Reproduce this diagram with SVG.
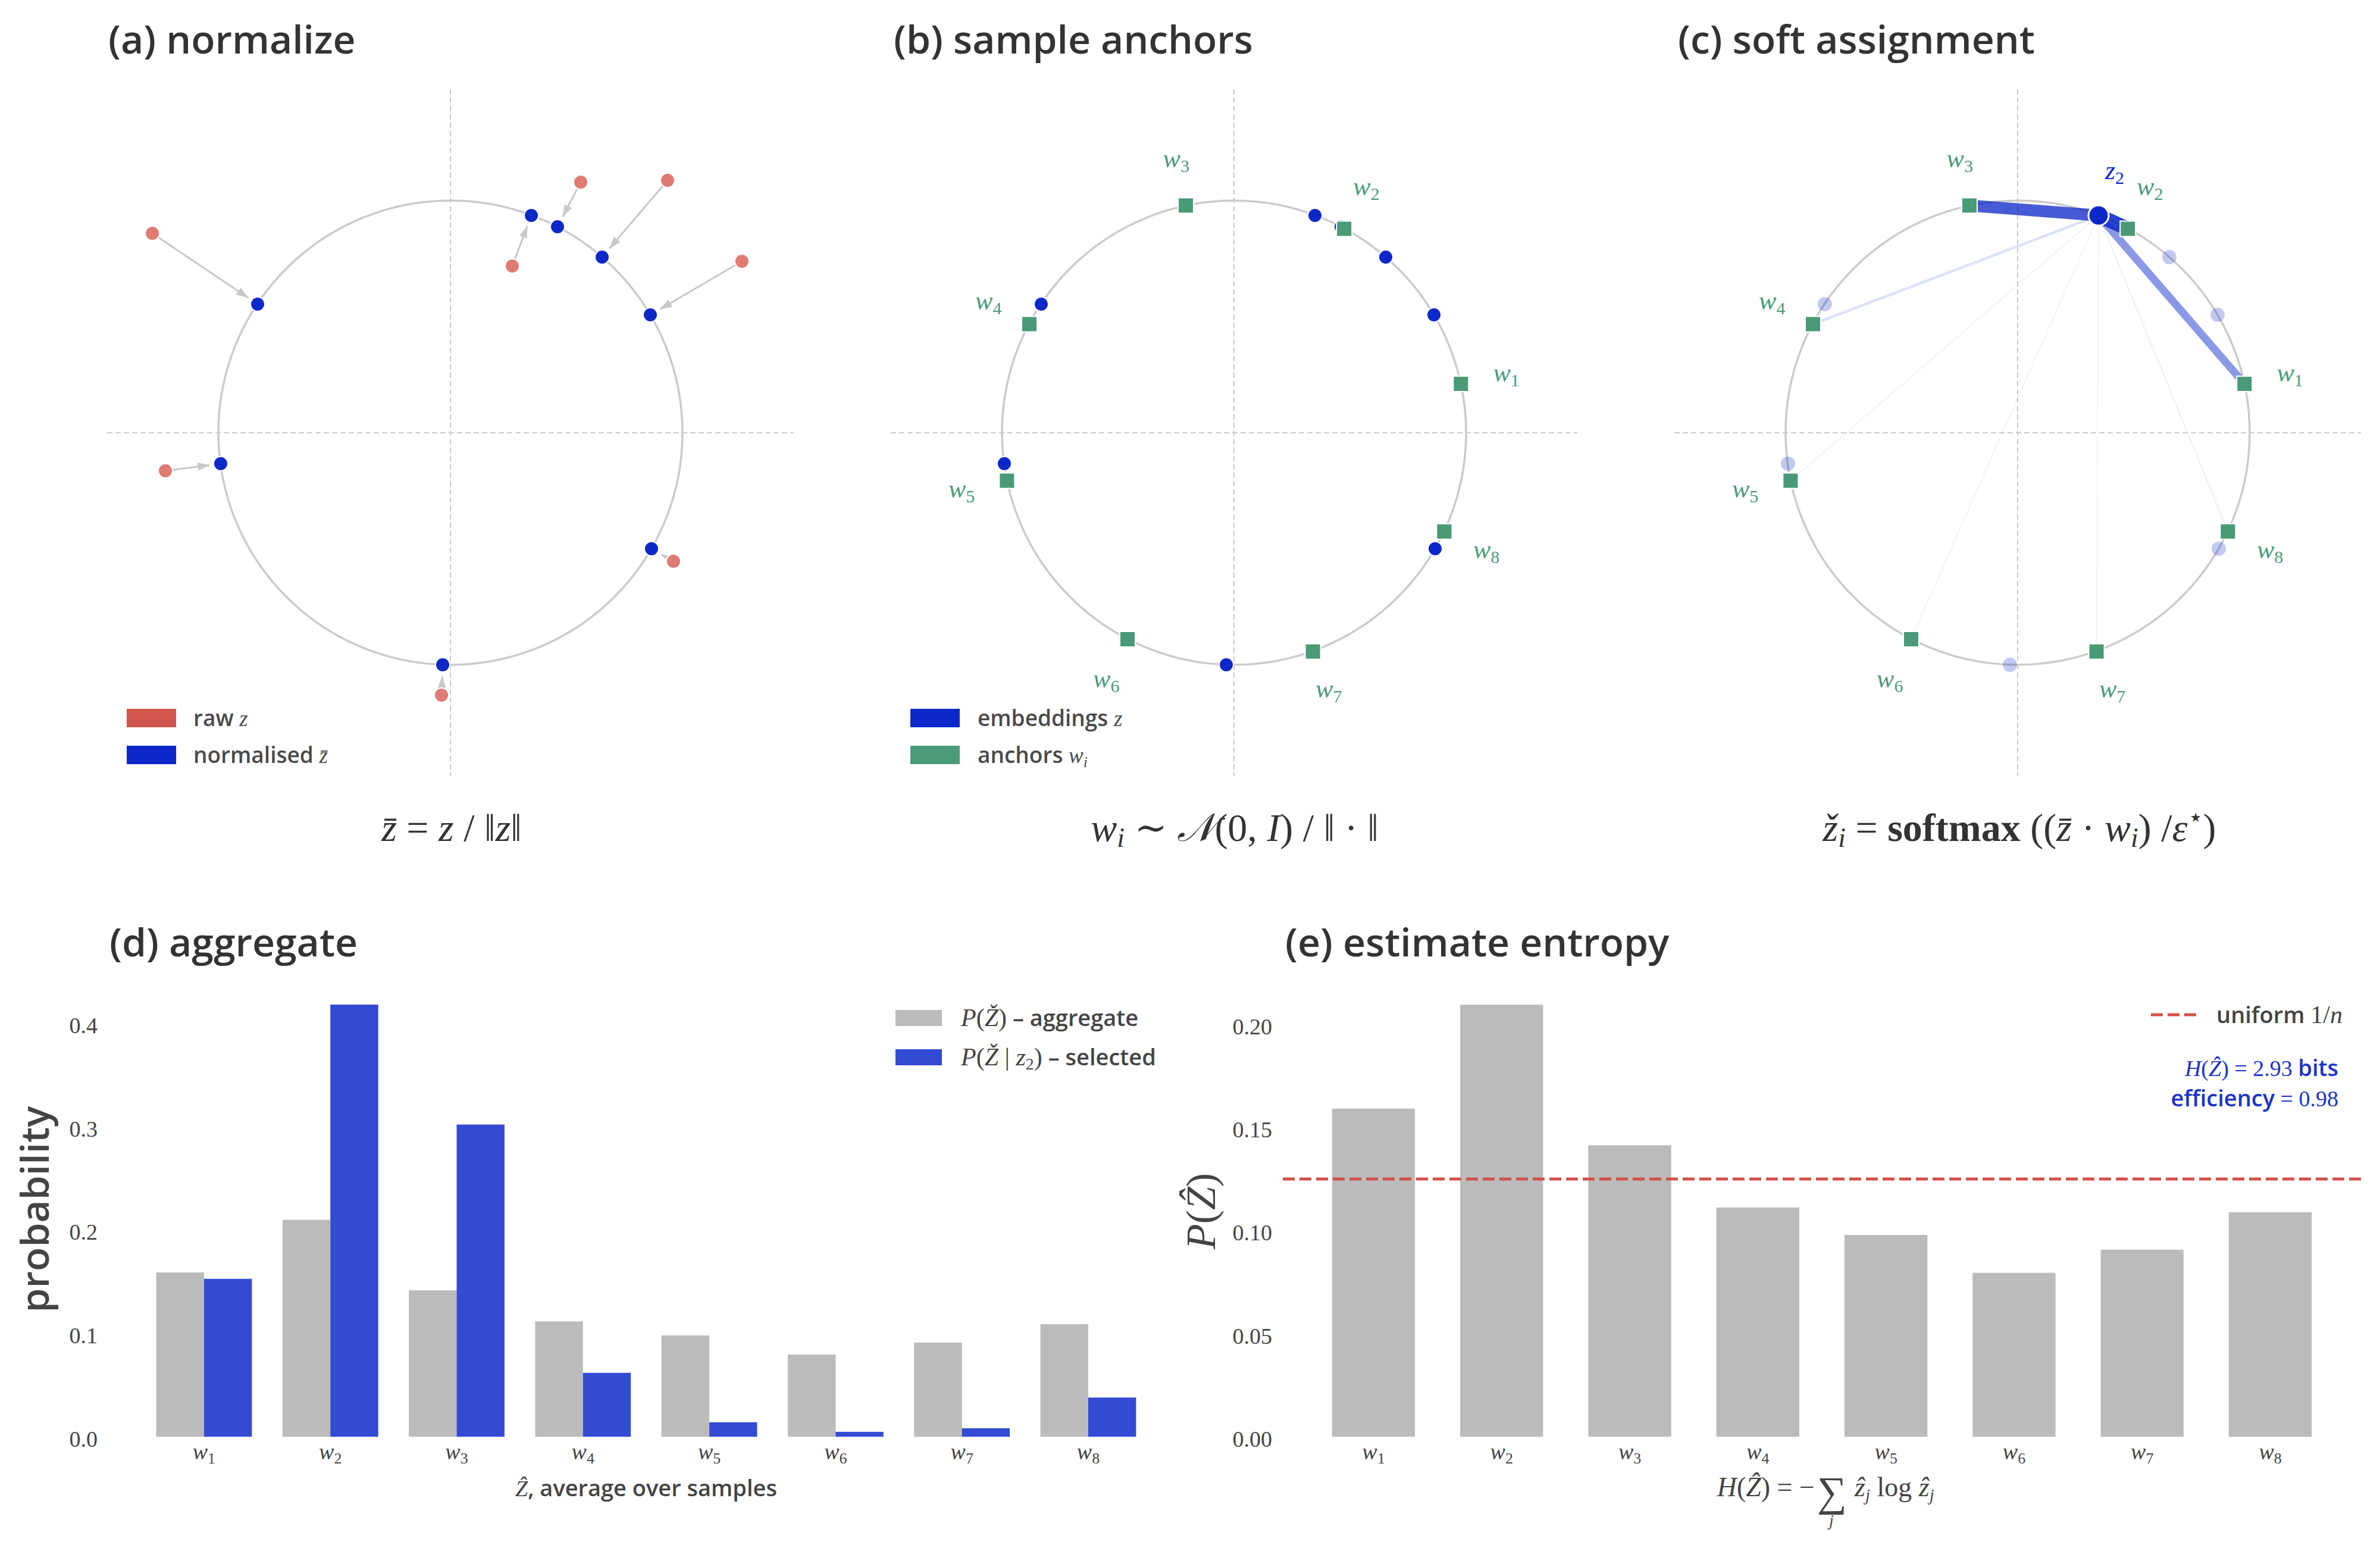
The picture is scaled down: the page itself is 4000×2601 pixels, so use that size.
<svg xmlns="http://www.w3.org/2000/svg" width="4000" height="2601" viewBox="0 0 4000 2601">
<defs>
<style>
.title{font-family:'Open Sans','Liberation Sans',sans-serif;font-weight:600;font-size:66px;fill:#333}
.leg{font-family:'Open Sans','Liberation Sans',sans-serif;font-weight:600;font-size:37px;fill:#4a4a4a}
.serif{font-family:'Liberation Serif','DejaVu Serif',serif}
.it{font-style:italic}
.tick{font-family:'Liberation Serif','DejaVu Serif',serif;font-size:38px;fill:#444}
.cross{stroke:#cccccc;stroke-width:2;stroke-dasharray:9 5;fill:none}
.circ{fill:none;stroke:#cbcbcb;stroke-width:3.5}
.blue{fill:#0d28c9;stroke:#fff;stroke-width:2}
.fade{fill:#0d28c9;fill-opacity:0.25}
.red{fill:#e07b73;stroke:#fff;stroke-width:2}
.anc{fill:#4a9a78;stroke:#fff;stroke-width:2}
.wl{font-family:'Liberation Serif','DejaVu Serif',serif;font-style:italic;font-size:44px;fill:#4a9a78;text-anchor:middle}
.arr{stroke:#c8c8c8;stroke-width:3;fill:none;marker-end:url(#ah)}
.gbar{fill:#bbbbbb}
.bbar{fill:#334ad3}
.xt{font-family:'Liberation Serif','DejaVu Serif',serif;font-style:italic;font-size:38px;fill:#444;text-anchor:middle}
.yt{text-anchor:end}
.formula{font-family:'Liberation Serif','DejaVu Serif',serif;font-size:66px;fill:#333;text-anchor:middle}
.axl{font-family:'Open Sans','Liberation Sans',sans-serif;font-weight:600;font-size:38px;fill:#444}
.assign{stroke:#0d28c9;fill:none}
</style>
<marker id="ah" markerUnits="userSpaceOnUse" markerWidth="20" markerHeight="14" refX="20" refY="7" orient="auto">
<path d="M0,0 L20,7 L0,14 z" fill="#c8c8c8"/>
</marker>
</defs>
<rect width="4000" height="2601" fill="#ffffff"/>

<!-- Panel (a) -->
<g id="panel-a">
<text class="title" x="182" y="90">(a) normalize</text>
<circle class="circ" cx="757" cy="727" r="390"/>
<line class="cross" x1="180" y1="727" x2="1334" y2="727"/>
<line class="cross" x1="757" y1="150" x2="757" y2="1304"/>
<g id="a-arrows">
<line class="arr" x1="256" y1="392" x2="417.2" y2="500.4"/>
<line class="arr" x1="278" y1="791" x2="352.2" y2="781.4"/>
<line class="arr" x1="861" y1="447" x2="886.3" y2="379.8"/>
<line class="arr" x1="976" y1="306" x2="945.8" y2="364.1"/>
<line class="arr" x1="1122" y1="303" x2="1024.3" y2="417.5"/>
<line class="arr" x1="1247" y1="439" x2="1109.4" y2="519.4"/>
<line class="arr" x1="1132" y1="943" x2="1111.5" y2="931.4"/>
<line class="arr" x1="742" y1="1168" x2="743.3" y2="1136"/>
</g>
<g id="a-raw">
<circle class="red" cx="256" cy="392" r="12"/>
<circle class="red" cx="278" cy="791" r="12"/>
<circle class="red" cx="861" cy="447" r="12"/>
<circle class="red" cx="976" cy="306" r="12"/>
<circle class="red" cx="1122" cy="303" r="12"/>
<circle class="red" cx="1247" cy="439" r="12"/>
<circle class="red" cx="1132" cy="943" r="12"/>
<circle class="red" cx="742" cy="1168" r="12"/>
</g>
<g id="a-norm">
<circle class="blue" cx="433" cy="511" r="12"/>
<circle class="blue" cx="371" cy="779" r="12"/>
<circle class="blue" cx="893" cy="362" r="12"/>
<circle class="blue" cx="937" cy="381" r="12"/>
<circle class="blue" cx="1012" cy="432" r="12"/>
<circle class="blue" cx="1093" cy="529" r="12"/>
<circle class="blue" cx="1095" cy="922" r="12"/>
<circle class="blue" cx="744" cy="1117" r="12"/>
</g>
<g id="a-legend">
<rect x="213" y="1191" width="83" height="31" fill="#d0554c"/>
<rect x="213" y="1253" width="83" height="31" fill="#0d28c9"/>
<text class="leg" x="325" y="1220">raw <tspan class="serif it" font-weight="400">z</tspan></text>
<text class="leg" x="325" y="1282">normalised <tspan class="serif it" font-weight="400">z&#x0304;</tspan></text>
</g>
<text class="formula" x="759" y="1413"><tspan class="it">z&#x0304;</tspan> = <tspan class="it">z</tspan> / ‖<tspan class="it">z</tspan>‖</text>
</g>

<!-- Panel (b) -->
<g id="panel-b">
<text class="title" x="1502" y="90">(b) sample anchors</text>
<circle class="circ" cx="2074" cy="727" r="390"/>
<line class="cross" x1="1497" y1="727" x2="2651" y2="727"/>
<line class="cross" x1="2074" y1="150" x2="2074" y2="1304"/>
<g id="b-emb">
<circle class="blue" cx="1750" cy="511" r="12"/>
<circle class="blue" cx="1688" cy="779" r="12"/>
<circle class="blue" cx="2210" cy="362" r="12"/>
<circle class="blue" cx="2254" cy="381" r="12"/>
<circle class="blue" cx="2329" cy="432" r="12"/>
<circle class="blue" cx="2410" cy="529" r="12"/>
<circle class="blue" cx="2412" cy="922" r="12"/>
<circle class="blue" cx="2061" cy="1117" r="12"/>
</g>
<g id="b-anchors">
<rect class="anc" x="2442.3" y="632" width="26" height="26"/>
<rect class="anc" x="2246.2" y="371.4" width="26" height="26"/>
<rect class="anc" x="1980" y="332.3" width="26" height="26"/>
<rect class="anc" x="1717" y="531.6" width="26" height="26"/>
<rect class="anc" x="1679.4" y="794.7" width="26" height="26"/>
<rect class="anc" x="1882" y="1061" width="26" height="26"/>
<rect class="anc" x="2193.6" y="1081.7" width="26" height="26"/>
<rect class="anc" x="2414.4" y="880" width="26" height="26"/>
</g>
<g id="b-labels">
<text class="wl" x="2531.6" y="640.6">w<tspan font-style="normal" font-size="30" dy="8">1</tspan></text>
<text class="wl" x="2296.2" y="327.9">w<tspan font-style="normal" font-size="30" dy="8">2</tspan></text>
<text class="wl" x="1976.8" y="281">w<tspan font-style="normal" font-size="30" dy="8">3</tspan></text>
<text class="wl" x="1661.2" y="520.1">w<tspan font-style="normal" font-size="30" dy="8">4</tspan></text>
<text class="wl" x="1616.1" y="835.8">w<tspan font-style="normal" font-size="30" dy="8">5</tspan></text>
<text class="wl" x="1859.2" y="1155.4">w<tspan font-style="normal" font-size="30" dy="8">6</tspan></text>
<text class="wl" x="2233.1" y="1172.3">w<tspan font-style="normal" font-size="30" dy="8">7</tspan></text>
<text class="wl" x="2498.1" y="938.2">w<tspan font-style="normal" font-size="30" dy="8">8</tspan></text>
</g>
<g id="b-legend">
<rect x="1530" y="1191" width="83" height="31" fill="#0d28c9"/>
<rect x="1530" y="1253" width="83" height="31" fill="#4c9b78"/>
<text class="leg" x="1643" y="1220">embeddings <tspan class="serif it" font-weight="400">z</tspan></text>
<text class="leg" x="1643" y="1282">anchors <tspan class="serif it" font-weight="400">w<tspan font-size="26" dy="7">i</tspan></tspan></text>
</g>
<text class="formula" x="2075" y="1413"><tspan class="it">w</tspan><tspan class="it" font-size="46" dy="10">i</tspan><tspan dy="-10"> ∼ </tspan><tspan class="it">𝒩</tspan>(0, <tspan class="it">I</tspan>)  /  ‖ · ‖</text>
</g>

<!-- Panel (c) -->
<g id="panel-c">
<text class="title" x="2820" y="90">(c) soft assignment</text>
<circle class="circ" cx="3391" cy="727" r="390"/>
<line class="cross" x1="2814" y1="727" x2="3968" y2="727"/>
<line class="cross" x1="3391" y1="150" x2="3391" y2="1304"/>
<g id="c-faded">
<circle class="fade" cx="3067" cy="511" r="12"/>
<circle class="fade" cx="3005" cy="779" r="12"/>
<circle class="fade" cx="3571" cy="381" r="12"/>
<circle class="fade" cx="3646" cy="432" r="12"/>
<circle class="fade" cx="3727" cy="529" r="12"/>
<circle class="fade" cx="3729" cy="922" r="12"/>
<circle class="fade" cx="3378" cy="1117" r="12"/>
</g>
<g id="connectors">
<line class="assign" x1="3527" y1="362" x2="3212" y2="1074" stroke-width="1.5" stroke-opacity="0.07"/>
<line class="assign" x1="3527" y1="362" x2="3523.6" y2="1094.7" stroke-width="1.5" stroke-opacity="0.07"/>
<line class="assign" x1="3527" y1="362" x2="3009.4" y2="807.7" stroke-width="1.5" stroke-opacity="0.07"/>
<line class="assign" x1="3527" y1="362" x2="3744.4" y2="893" stroke-width="2" stroke-opacity="0.08"/>
<line class="assign" x1="3527" y1="362" x2="3047" y2="544.6" stroke-width="4.5" stroke-opacity="0.14"/>
<line class="assign" x1="3527" y1="362" x2="3772.3" y2="645" stroke-width="13" stroke-opacity="0.48"/>
<line class="assign" x1="3527" y1="362" x2="3310" y2="345.3" stroke-width="20" stroke-opacity="0.76"/>
<line class="assign" x1="3527" y1="362" x2="3576.2" y2="384.4" stroke-width="24" stroke-opacity="0.88"/>
</g>
<g id="c-anchors">
<rect class="anc" x="3759.3" y="632" width="26" height="26"/>
<rect class="anc" x="3563.2" y="371.4" width="26" height="26"/>
<rect class="anc" x="3297" y="332.3" width="26" height="26"/>
<rect class="anc" x="3034" y="531.6" width="26" height="26"/>
<rect class="anc" x="2996.4" y="794.7" width="26" height="26"/>
<rect class="anc" x="3199" y="1061" width="26" height="26"/>
<rect class="anc" x="3510.6" y="1081.7" width="26" height="26"/>
<rect class="anc" x="3731.4" y="880" width="26" height="26"/>
</g>
<circle id="z2" cx="3527" cy="362" r="17" fill="#0d28c9" stroke="#fff" stroke-width="3"/>
<text class="wl" x="3554" y="300.5" style="fill:#0d28c9">z<tspan font-style="normal" font-size="30" dy="8">2</tspan></text>
<g id="c-labels">
<text class="wl" x="3848.6" y="640.6">w<tspan font-style="normal" font-size="30" dy="8">1</tspan></text>
<text class="wl" x="3613.2" y="327.9">w<tspan font-style="normal" font-size="30" dy="8">2</tspan></text>
<text class="wl" x="3293.8" y="281">w<tspan font-style="normal" font-size="30" dy="8">3</tspan></text>
<text class="wl" x="2978.2" y="520.1">w<tspan font-style="normal" font-size="30" dy="8">4</tspan></text>
<text class="wl" x="2933.1" y="835.8">w<tspan font-style="normal" font-size="30" dy="8">5</tspan></text>
<text class="wl" x="3176.2" y="1155.4">w<tspan font-style="normal" font-size="30" dy="8">6</tspan></text>
<text class="wl" x="3550.1" y="1172.3">w<tspan font-style="normal" font-size="30" dy="8">7</tspan></text>
<text class="wl" x="3815.1" y="938.2">w<tspan font-style="normal" font-size="30" dy="8">8</tspan></text>
</g>
<text class="formula" x="3394" y="1413"><tspan class="it">ž</tspan><tspan class="it" font-size="46" dy="10">i</tspan><tspan dy="-10"> = </tspan><tspan font-weight="700">softmax</tspan> ((<tspan class="it">z&#x0304;</tspan> · <tspan class="it">w</tspan><tspan class="it" font-size="46" dy="10">i</tspan><tspan dy="-10">) /</tspan><tspan class="it">ε</tspan><tspan font-size="42" dy="-26">⋆</tspan><tspan dy="26">)</tspan></text>
</g>

<!-- Panel (d) -->
<g id="panel-d">
<text class="title" x="184" y="1607">(d) aggregate</text>
<g id="d-bars">
<rect class="gbar" x="262.5" y="2138" width="80.4" height="276"/>
<rect class="bbar" x="342.9" y="2148.7" width="80.4" height="265.3"/>
<rect class="gbar" x="474.8" y="2049.6" width="80.4" height="364.4"/>
<rect class="bbar" x="555.2" y="1688" width="80.4" height="726"/>
<rect class="gbar" x="687.1" y="2168" width="80.4" height="246"/>
<rect class="bbar" x="767.5" y="1889.5" width="80.4" height="524.5"/>
<rect class="gbar" x="899.4" y="2220.3" width="80.4" height="193.7"/>
<rect class="bbar" x="979.8" y="2306.7" width="80.4" height="107.3"/>
<rect class="gbar" x="1111.7" y="2243.8" width="80.4" height="170.2"/>
<rect class="bbar" x="1192.1" y="2389.7" width="80.4" height="24.3"/>
<rect class="gbar" x="1324" y="2275.9" width="80.4" height="138.1"/>
<rect class="bbar" x="1404.4" y="2405.8" width="80.4" height="8.2"/>
<rect class="gbar" x="1536.3" y="2255.8" width="80.4" height="158.2"/>
<rect class="bbar" x="1616.7" y="2399.8" width="80.4" height="14.2"/>
<rect class="gbar" x="1748.6" y="2225" width="80.4" height="189"/>
<rect class="bbar" x="1829" y="2348.2" width="80.4" height="65.8"/>
</g>
<g id="d-yticks">
<text class="tick yt" x="164" y="2431">0.0</text>
<text class="tick yt" x="164" y="2257">0.1</text>
<text class="tick yt" x="164" y="2083">0.2</text>
<text class="tick yt" x="164" y="1910">0.3</text>
<text class="tick yt" x="164" y="1736">0.4</text>
</g>
<g id="d-xticks">
<text class="xt" x="342.9" y="2452">w<tspan font-style="normal" font-size="26" dy="7">1</tspan></text>
<text class="xt" x="555.2" y="2452">w<tspan font-style="normal" font-size="26" dy="7">2</tspan></text>
<text class="xt" x="767.5" y="2452">w<tspan font-style="normal" font-size="26" dy="7">3</tspan></text>
<text class="xt" x="979.8" y="2452">w<tspan font-style="normal" font-size="26" dy="7">4</tspan></text>
<text class="xt" x="1192.1" y="2452">w<tspan font-style="normal" font-size="26" dy="7">5</tspan></text>
<text class="xt" x="1404.4" y="2452">w<tspan font-style="normal" font-size="26" dy="7">6</tspan></text>
<text class="xt" x="1616.7" y="2452">w<tspan font-style="normal" font-size="26" dy="7">7</tspan></text>
<text class="xt" x="1829" y="2452">w<tspan font-style="normal" font-size="26" dy="7">8</tspan></text>
</g>
<text class="axl" x="1086" y="2514" text-anchor="middle"><tspan class="serif it" font-weight="400">Ẑ</tspan>, average over samples</text>
<text class="title" x="0" y="0" font-size="58" style="fill:#444" text-anchor="middle" transform="translate(82 2032) rotate(-90)">probability</text>
<g id="d-legend">
<rect x="1505" y="1697" width="78" height="27" fill="#bbbbbb"/>
<rect x="1505" y="1763" width="78" height="27" fill="#334ad3"/>
<text class="axl" x="1615" y="1724"><tspan class="serif" font-weight="400" font-size="42"><tspan class="it">P</tspan>(<tspan class="it">Ž</tspan>)</tspan> – aggregate</text>
<text class="axl" x="1615" y="1790"><tspan class="serif" font-weight="400" font-size="42"><tspan class="it">P</tspan>(<tspan class="it">Ž</tspan> | <tspan class="it">z</tspan><tspan font-size="28" dy="7">2</tspan><tspan dy="-7">)</tspan></tspan> – selected</text>
</g>
</g>

<!-- Panel (e) -->
<g id="panel-e">
<text class="title" x="2160" y="1607">(e) estimate entropy</text>
<g id="e-bars">
<rect class="gbar" x="2238.8" y="1862.7" width="139.3" height="551.3"/>
<rect class="gbar" x="2454.1" y="1688" width="139.3" height="726"/>
<rect class="gbar" x="2669.4" y="1924.3" width="139.3" height="489.7"/>
<rect class="gbar" x="2884.7" y="2028.8" width="139.3" height="385.2"/>
<rect class="gbar" x="3100" y="2075" width="139.3" height="339"/>
<rect class="gbar" x="3315.3" y="2138.6" width="139.3" height="275.4"/>
<rect class="gbar" x="3530.6" y="2099.8" width="139.3" height="314.2"/>
<rect class="gbar" x="3745.9" y="2036.8" width="139.3" height="377.2"/>
</g>
<line x1="2156" y1="1981" x2="3968" y2="1981" stroke="#d0524a" stroke-width="5" stroke-dasharray="20 8"/>
<g id="e-yticks">
<text class="tick yt" x="2138" y="2431">0.00</text>
<text class="tick yt" x="2138" y="2258">0.05</text>
<text class="tick yt" x="2138" y="2084">0.10</text>
<text class="tick yt" x="2138" y="1911">0.15</text>
<text class="tick yt" x="2138" y="1738">0.20</text>
</g>
<g id="e-xticks">
<text class="xt" x="2308.5" y="2452">w<tspan font-style="normal" font-size="26" dy="7">1</tspan></text>
<text class="xt" x="2523.8" y="2452">w<tspan font-style="normal" font-size="26" dy="7">2</tspan></text>
<text class="xt" x="2739.1" y="2452">w<tspan font-style="normal" font-size="26" dy="7">3</tspan></text>
<text class="xt" x="2954.4" y="2452">w<tspan font-style="normal" font-size="26" dy="7">4</tspan></text>
<text class="xt" x="3169.7" y="2452">w<tspan font-style="normal" font-size="26" dy="7">5</tspan></text>
<text class="xt" x="3385" y="2452">w<tspan font-style="normal" font-size="26" dy="7">6</tspan></text>
<text class="xt" x="3600.3" y="2452">w<tspan font-style="normal" font-size="26" dy="7">7</tspan></text>
<text class="xt" x="3815.6" y="2452">w<tspan font-style="normal" font-size="26" dy="7">8</tspan></text>
</g>
<g id="e-xlabel" class="serif" fill="#444" font-size="46">
<text x="3050" y="2514" text-anchor="end"><tspan class="it">H</tspan>(<tspan class="it">Ẑ</tspan>) = −</text>
<text x="3054" y="2530" font-size="70">∑</text>
<text x="3074" y="2564" class="it" font-size="28">j</text>
<text x="3117" y="2514"><tspan class="it">ẑ</tspan><tspan class="it" font-size="29" dy="8">j</tspan><tspan dy="-8"> log </tspan><tspan class="it">ẑ</tspan><tspan class="it" font-size="29" dy="8">j</tspan></text>
</g>
<text class="serif it" x="0" y="0" font-size="70" fill="#444" text-anchor="middle" transform="translate(2042 2035) rotate(-90)">P<tspan font-style="normal">(</tspan>Ẑ<tspan font-style="normal">)</tspan></text>
<g id="e-legend">
<line x1="3615" y1="1705" x2="3691" y2="1705" stroke="#d0524a" stroke-width="5" stroke-dasharray="20 8"/>
<text class="axl" x="3725" y="1719">uniform <tspan class="serif" font-weight="400" font-size="42">1/<tspan class="it">n</tspan></tspan></text>
<text class="axl" x="3930" y="1808" text-anchor="end" style="fill:#1a33cc" font-size="42"><tspan class="serif" font-weight="400"><tspan class="it">H</tspan>(<tspan class="it">Ẑ</tspan>) = 2.93 </tspan>bits</text>
<text class="axl" x="3930" y="1859" text-anchor="end" style="fill:#1a33cc" font-size="42">efficiency<tspan class="serif" font-weight="400"> = 0.98</tspan></text>
</g>
</g>
</svg>
